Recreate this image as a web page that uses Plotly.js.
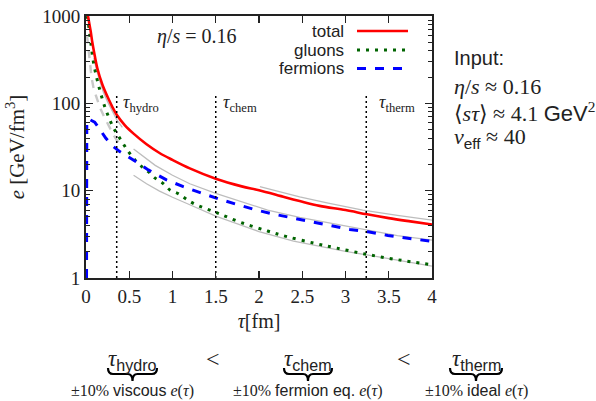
<!DOCTYPE html>
<html>
<head>
<meta charset="utf-8">
<script src="https://cdn.plot.ly/plotly-3.0.1.min.js"></script>
<style>
  html, body { margin: 0; padding: 0; background: #fff; }
  #chart { width: 596px; height: 401px; }
</style>
</head>
<body>
<div id="chart"></div>
<script>
// Energy density e [GeV/fm^3] versus proper time tau [fm]
const totalTau = [0.023, 0.038, 0.054, 0.073, 0.092, 0.131, 0.19, 0.25, 0.3, 0.355, 0.45, 0.55, 0.7, 0.85, 1.0, 1.2, 1.5, 1.8, 2.0, 2.3, 2.47, 2.7, 3.0, 3.25, 3.5, 3.75, 4.0];
const totalE   = [1000, 820, 670, 500, 393, 252, 163, 118, 93, 74, 56, 45, 34, 27, 22.5, 18.0, 13.7, 11.2, 10.1, 8.4, 7.6, 6.7, 6.0, 5.36, 4.85, 4.45, 4.1];

const gluonTau = [0.012, 0.023, 0.035, 0.046, 0.06, 0.073, 0.09, 0.112, 0.139, 0.17, 0.216, 0.266, 0.316, 0.37, 0.43, 0.49, 0.566, 0.644, 0.72, 0.8, 0.886, 0.97, 1.07, 1.16, 1.26, 1.5, 1.79, 2.1, 2.31, 2.64, 2.9, 3.24, 3.6, 4.0];
const gluonE   = [1000, 908, 720, 585, 460, 360, 280, 221, 170, 130, 92, 68, 53, 43, 34.5, 28, 22.5, 18.9, 16.5, 13.9, 12.2, 10.2, 9.2, 8.0, 7.0, 5.65, 4.33, 3.45, 3.0, 2.5, 2.2, 1.87, 1.62, 1.42];

const fermionTau = [0.006, 0.006, 0.007, 0.009, 0.03, 0.06, 0.1, 0.15, 0.228, 0.3, 0.39, 0.547, 0.72, 0.93, 1.125, 1.32, 1.55, 1.77, 1.97, 2.18, 2.4, 2.63, 2.84, 3.05, 3.26, 3.49, 3.71, 4.0];
const fermionE   = [1, 10, 40, 64, 66, 64, 61, 52, 40, 33, 28, 22.5, 17.3, 13.3, 11.1, 9.5, 7.95, 6.85, 6.0, 5.36, 4.82, 4.4, 3.96, 3.6, 3.38, 3.07, 2.88, 2.62];

// comparison curves (thin grey)
const earlyDashTau = [0.012, 0.018, 0.025, 0.035, 0.05, 0.065, 0.09, 0.12, 0.16, 0.21, 0.26, 0.31, 0.355, 0.42];
const earlyDashE   = [600, 520, 430, 330, 250, 195, 145, 115, 90, 70, 55, 45, 38, 31];
const viscBandTau = [0.09, 0.12, 0.16, 0.2, 0.25, 0.3, 0.355, 0.42];
const viscBandE   = [330, 245, 180, 135, 104, 82, 65, 53];
const upperBandTau = [0.55, 0.65, 0.8, 1.0, 1.2, 1.5, 1.8, 2.1, 2.47, 2.8, 3.24, 3.6, 4.0];
const upperBandE   = [30, 25, 19.5, 15, 12.0, 9.3, 7.4, 6.0, 4.95, 4.3, 3.5, 3.05, 2.72];
const lowerBandTau = [0.55, 0.7, 0.85, 1.0, 1.2, 1.35, 1.5, 1.8, 2.0, 2.4, 2.7, 3.0, 3.3, 3.6, 4.0];
const lowerBandE   = [15.0, 12.0, 9.9, 8.4, 6.9, 5.9, 5.1, 4.0, 3.4, 2.65, 2.3, 2.02, 1.8, 1.6, 1.37];
const idealBandTau = [2.01, 2.3, 2.47, 2.8, 3.2, 3.6, 4.0];
const idealBandE   = [11.1, 9.4, 8.5, 7.2, 6.0, 5.2, 4.6];

// characteristic times
const markNames = ['hydro', 'chem', 'therm'];
const markTau   = [0.355, 1.5, 3.24];
const markTop   = 126;

const xTicks = [0, 0.5, 1, 1.5, 2, 2.5, 3, 3.5, 4];
const xTickText = ['0', '0.5', '1', '1.5', '2', '2.5', '3', '3.5', '4'];
const yTicks = [1, 10, 100, 1000];
const yTickText = ['1', '10', '100', '1000'];
const yMinor = [2, 3, 4, 5, 6, 7, 8, 9, 20, 30, 40, 50, 60, 70, 80, 90, 200, 300, 400, 500, 600, 700, 800, 900];

const SERIF = 'Liberation Serif, DejaVu Serif, serif';
const SANS = 'Liberation Sans, Arial, sans-serif';
const INK = '#222';

// page layout in pixels
const W = 596, H = 401;
const L = 86, R = 432, T = 16, B = 278;
const px = p => (p - L) / (R - L);
const py = p => (B - p) / (B - T);

const grey = '#bdbdbd';
const traces = [
  { x: earlyDashTau, y: earlyDashE, mode: 'lines', line: { color: '#c8c8c8', width: 2.4, dash: '8px,7px' } },
  { x: viscBandTau, y: viscBandE, mode: 'lines', line: { color: grey, width: 1.3 } },
  { x: upperBandTau, y: upperBandE, mode: 'lines', line: { color: grey, width: 1.3 } },
  { x: lowerBandTau, y: lowerBandE, mode: 'lines', line: { color: grey, width: 1.3 } },
  { x: idealBandTau, y: idealBandE, mode: 'lines', line: { color: grey, width: 1.3 } },
  { name: 'gluons', x: gluonTau, y: gluonE, mode: 'lines', line: { color: '#006400', width: 3, dash: '3px,6px', shape: 'spline' } },
  { name: 'fermions', x: fermionTau, y: fermionE, mode: 'lines', line: { color: '#0000ff', width: 3, dash: '9px,9px' } },
  { name: 'total', x: totalTau, y: totalE, mode: 'lines', line: { color: '#ff0000', width: 2.6, shape: 'spline' } }
];
markTau.forEach(t => {
  traces.push({ x: [t, t], y: [1, markTop], mode: 'lines', line: { color: '#000', width: 1.5, dash: '2px,3px' } });
});

const annotations = [];
const shapes = [];
function note(text, x, y, opts) {
  annotations.push(Object.assign({ text: text, x: px(x), y: py(y), xref: 'paper', yref: 'paper',
    showarrow: false, xanchor: 'center', yanchor: 'middle',
    font: { family: SERIF, size: 16, color: INK } }, opts || {}));
}

// tau labels next to the dotted markers
const markShift = [4, 5, 11];
markNames.forEach((n, i) => {
  annotations.push({ text: '<i>τ</i><sub>' + n + '</sub>', x: markTau[i], y: 2, xref: 'x', yref: 'y',
    xshift: markShift[i], xanchor: 'left', yanchor: 'middle', showarrow: false,
    font: { family: SERIF, size: 18, color: INK } });
});

note('<i>η</i>/<i>s</i> = 0.16', 197, 36, { font: { family: SERIF, size: 20, color: INK } });

// legend (labels right aligned, samples on the right)
const legendRows = [
  { label: 'total', y: 31, color: '#ff0000', dash: 'solid', w: 2.6, x1: 408 },
  { label: 'gluons', y: 50, color: '#006400', dash: '3px,6px', w: 3, x1: 408 },
  { label: 'fermions', y: 68.5, color: '#0000ff', dash: '9px,9px', w: 3, x1: 404 }
];
legendRows.forEach(r => {
  note(r.label, 346, r.y, { xanchor: 'right', font: { family: SANS, size: 17, color: INK } });
  shapes.push({ type: 'line', xref: 'paper', yref: 'paper', x0: px(357), x1: px(r.x1), y0: py(r.y), y1: py(r.y),
    line: { color: r.color, width: r.w, dash: r.dash } });
});

// input parameters
const sf = s => '<span style="font-family:' + SANS + '">' + s + '</span>';
note(sf('Input:'), 452, 58, { xanchor: 'left', font: { family: SANS, size: 20, color: INK } });
note('<i>η</i>/<i>s</i> ≈ 0.16', 452, 86, { xanchor: 'left', font: { family: SERIF, size: 22, color: INK } });
note('⟨<i>sτ</i>⟩ ≈ 4.1 ' + sf('GeV') + '<sup>2</sup>', 452, 112, { xanchor: 'left', font: { family: SERIF, size: 22, color: INK } });
note('<i>ν</i><sub>' + sf('eff') + '</sub> ≈ 40', 452, 138, { xanchor: 'left', font: { family: SERIF, size: 22, color: INK } });

// ordering of time scales with underbraces
const order = [
  { name: 'hydro', cx: 132.5, x0: 108, x1: 157, what: 'viscous' },
  { name: 'chem', cx: 308, x0: 284, x1: 332, what: 'fermion eq.' },
  { name: 'therm', cx: 476, x0: 450, x1: 502, what: 'ideal' }
];
order.forEach(o => {
  note('<i>τ</i><sub>' + sf(o.name) + '</sub>', o.cx, 360, { font: { family: SERIF, size: 23, color: INK } });
  note('±10% ' + sf(o.what) + ' <i>e</i>(<i>τ</i>)', o.cx, 391, { font: { family: SERIF, size: 16, color: INK } });
  const yTop = 368, yBar = 374, yTip = 381, c = 5;
  const P = (a, b) => px(a).toFixed(5) + ',' + py(b).toFixed(5);
  const path = 'M' + P(o.x0, yTop) + ' Q' + P(o.x0, yBar) + ' ' + P(o.x0 + c, yBar) +
    ' L' + P(o.cx - c, yBar) + ' Q' + P(o.cx, yBar) + ' ' + P(o.cx, yTip) +
    ' Q' + P(o.cx, yBar) + ' ' + P(o.cx + c, yBar) +
    ' L' + P(o.x1 - c, yBar) + ' Q' + P(o.x1, yBar) + ' ' + P(o.x1, yTop);
  shapes.push({ type: 'path', xref: 'paper', yref: 'paper', path: path, line: { color: '#000', width: 2.2 } });
});
note('<', 213, 359, { font: { family: SERIF, size: 24, color: INK } });
note('<', 404, 359, { font: { family: SERIF, size: 24, color: INK } });

const layout = {
  width: W, height: H,
  margin: { l: L, r: W - R, t: T, b: H - B },
  paper_bgcolor: '#fff', plot_bgcolor: '#fff',
  showlegend: false,
  xaxis: {
    range: [0, 4], tickmode: 'array', tickvals: xTicks, ticktext: xTickText,
    ticks: 'inside', ticklen: 7, tickwidth: 1.3, tickcolor: INK,
    showline: true, linecolor: INK, linewidth: 2, mirror: 'ticks',
    showgrid: false, zeroline: false,
    tickfont: { family: SERIF, size: 19, color: INK },
    title: { text: '<i>τ</i>[fm]', font: { family: SERIF, size: 20, color: INK }, standoff: 8 }
  },
  yaxis: {
    type: 'log', range: [0, 3], tickmode: 'array', tickvals: yTicks, ticktext: yTickText,
    ticks: 'inside', ticklen: 7, tickwidth: 1.3, tickcolor: INK,
    minor: { tickmode: 'array', tickvals: yMinor, ticks: 'inside', ticklen: 4, tickwidth: 1, tickcolor: INK, showgrid: false },
    showline: true, linecolor: INK, linewidth: 2, mirror: 'ticks',
    showgrid: false, zeroline: false,
    tickfont: { family: SERIF, size: 19, color: INK },
    title: { text: '<i>e</i> [GeV/fm<sup>3</sup>]', font: { family: SERIF, size: 21, color: INK }, standoff: 12 }
  },
  annotations: annotations,
  shapes: shapes
};

Plotly.newPlot('chart', traces, layout, { displayModeBar: false, staticPlot: true });
</script>
</body>
</html>
